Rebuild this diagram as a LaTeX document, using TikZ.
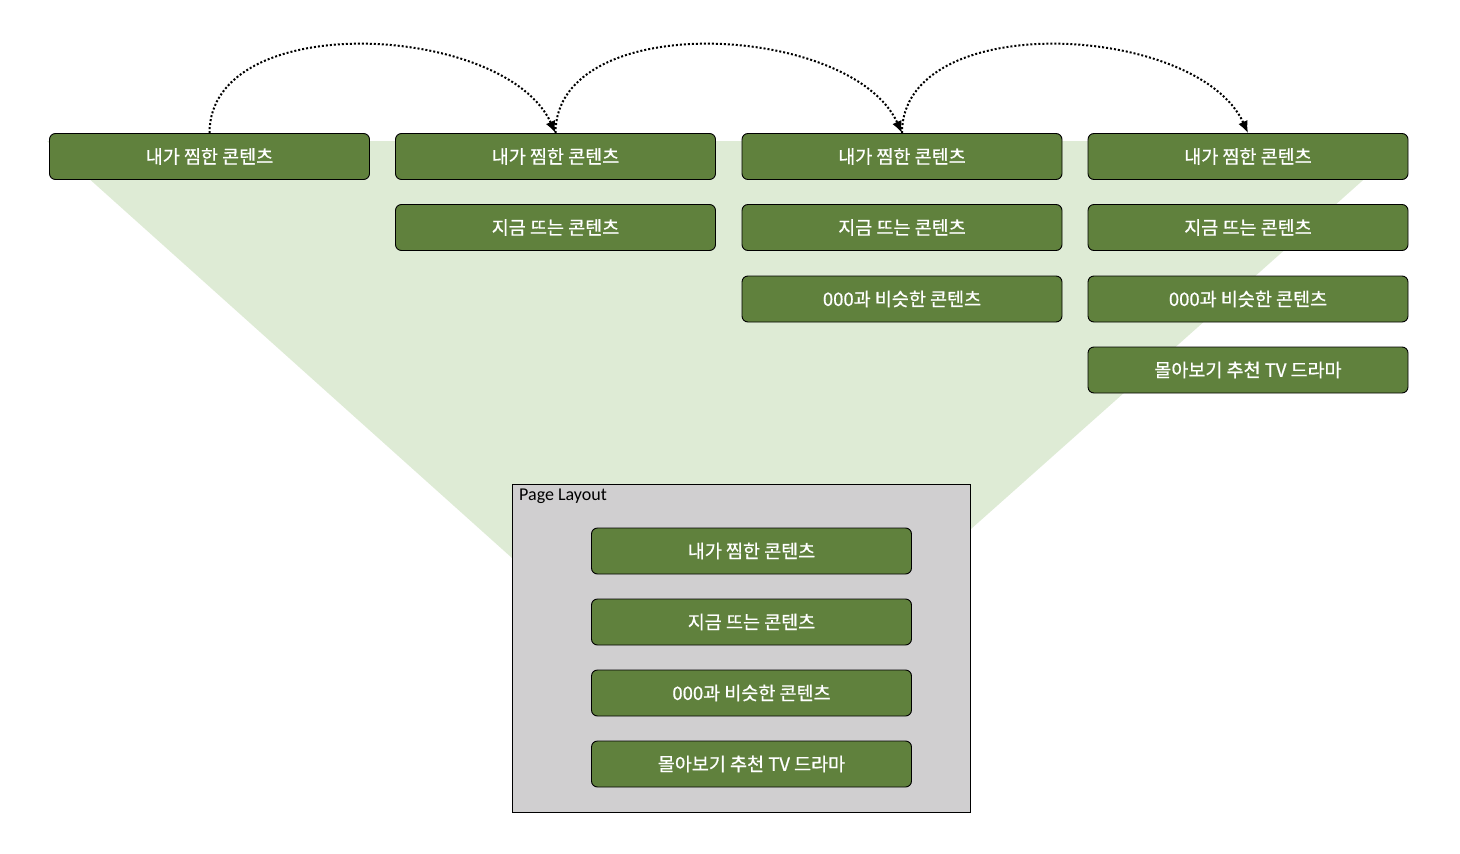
\documentclass[tikz,border=0pt]{standalone}
\usepackage{fontspec}
\setmainfont{Carlito}
\newfontfamily\kr[FakeBold=0.7]{Noto Sans CJK KR}
\usetikzlibrary{arrows.meta}
\definecolor{boxgreen}{RGB}{96,129,61}
\definecolor{fangreen}{RGB}{222,235,213}
\definecolor{pagegray}{RGB}{208,207,208}
\tikzset{
  menu/.style={draw=black, line width=0.9pt, fill=boxgreen, rounded corners=6pt,
    minimum width=320pt, minimum height=46pt, inner sep=0pt,
    text=white, font=\kr\fontsize{18.5}{20}\selectfont},
  hop/.style={dotted, line width=2pt, -{Latex[length=12pt,width=10pt]}}
}
\begin{document}
\begin{tikzpicture}[x=1pt, y=-1pt]
	\useasboundingbox (0,0) rectangle (1460,854);
	% fan behind the steps
	\fill[fangreen] (47,141) -- (1407,141) -- (880,610) -- (570,610) -- cycle;
	% steps, left to right
	\node[menu] (fav1) at (209.5,156.5) {내가 찜한 콘텐츠};
	\node[menu] (fav2) at (555.5,156.5) {내가 찜한 콘텐츠};
	\node[menu] (hot2) at (555.5,227.5) {지금 뜨는 콘텐츠};
	\node[menu] (fav3) at (902,156.5) {내가 찜한 콘텐츠};
	\node[menu] (hot3) at (902,227.5) {지금 뜨는 콘텐츠};
	\node[menu] (like3) at (902,299) {000과 비슷한 콘텐츠};
	\node[menu] (fav4) at (1248,156.5) {내가 찜한 콘텐츠};
	\node[menu] (hot4) at (1248,227.5) {지금 뜨는 콘텐츠};
	\node[menu] (like4) at (1248,299) {000과 비슷한 콘텐츠};
	\node[menu] (binge4) at (1248,370) {몰아보기 추천 TV 드라마};
	\draw[hop] (fav1.north) .. controls +(0,-125) and +(-50,-110) .. (fav2.north);
	\draw[hop] (fav2.north) .. controls +(0,-125) and +(-50,-110) .. (fav3.north);
	\draw[hop] (fav3.north) .. controls +(0,-125) and +(-50,-110) .. (fav4.north);
	% result
	\node[draw=black, line width=0.9pt, fill=pagegray, minimum width=458pt, minimum height=328pt,
		anchor=north west, inner sep=0pt] (page) at (512,484) {};
	\node[anchor=north west, font=\fontsize{18}{20}\selectfont, inner sep=0pt] (title) at (519,489) {Page Layout};
	\node[menu] (pfav) at (751.5,551) {내가 찜한 콘텐츠};
	\node[menu] (phot) at (751.5,622) {지금 뜨는 콘텐츠};
	\node[menu] (plike) at (751.5,693) {000과 비슷한 콘텐츠};
	\node[menu] (pbinge) at (751.5,764) {몰아보기 추천 TV 드라마};
\end{tikzpicture}
\end{document}
